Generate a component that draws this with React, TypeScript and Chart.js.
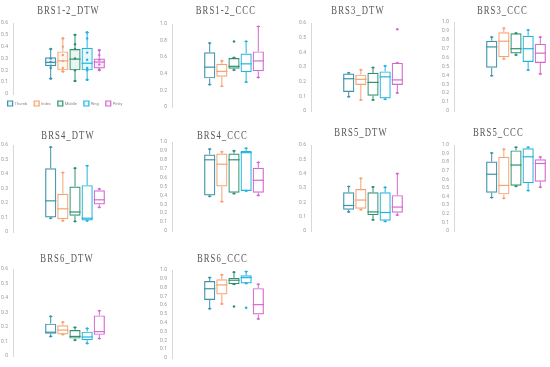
import React, { useEffect, useRef } from 'react';
import { Chart, registerables } from 'chart.js';
Chart.register(...registerables);

const fingers = ['Thumb', 'Index', 'Middle', 'Ring', 'Pinky'];
const colors = ['#3d93ad', '#f5a271', '#2f9170', '#22b4df', '#d468cf'];
const tints = ['rgba(61,147,173,0.10)', 'rgba(245,162,113,0.10)', 'rgba(47,145,112,0.10)', 'rgba(34,180,223,0.10)', 'rgba(212,104,207,0.10)'];

// each row: [min, q1, median, q3, max] for Thumb, Index, Middle, Ring, Pinky
const brs12Dtw = [[0.13, 0.234, 0.267, 0.31, 0.38], [0.19, 0.20, 0.28, 0.36, 0.47], [0.11, 0.20, 0.295, 0.38, 0.50], [0.12, 0.20, 0.26, 0.39, 0.52], [0.20, 0.215, 0.27, 0.30, 0.37]];
const brs12DtwPoints = [[0.38, 0.30, 0.27, 0.24, 0.22, 0.13], [0.47, 0.40, 0.33, 0.28, 0.22, 0.19], [0.50, 0.42, 0.38, 0.30, 0.20, 0.11], [0.52, 0.47, 0.35, 0.29, 0.22, 0.20, 0.12], [0.37, 0.33, 0.29, 0.25, 0.21]];
const brs12Ccc = [[0.27, 0.345, 0.48, 0.66, 0.77], [0.25, 0.365, 0.43, 0.52, 0.555], [0.445, 0.46, 0.49, 0.59, 0.595], [0.30, 0.42, 0.52, 0.645, 0.79], [0.356, 0.43, 0.555, 0.67, 0.97]];
const brs12CccOut = [[], [], [0.79], [], []];
const brs3Dtw = [[0.097, 0.13, 0.22, 0.255, 0.26], [0.075, 0.177, 0.216, 0.248, 0.28], [0.075, 0.104, 0.195, 0.26, 0.296], [0.08, 0.086, 0.233, 0.27, 0.307], [0.123, 0.177, 0.212, 0.328, 0.328]];
const brs3DtwOut = [[], [], [], [], [0.557]];
const brs3Ccc = [[0.396, 0.486, 0.72, 0.79, 0.83], [0.586, 0.604, 0.784, 0.885, 0.93], [0.63, 0.647, 0.70, 0.874, 0.874], [0.46, 0.55, 0.70, 0.845, 0.91], [0.417, 0.54, 0.65, 0.755, 0.83]];
const brs4Dtw = [[0.095, 0.10, 0.215, 0.44, 0.585], [0.077, 0.088, 0.16, 0.264, 0.41], [0.073, 0.112, 0.138, 0.314, 0.44], [0.077, 0.08, 0.095, 0.323, 0.457], [0.17, 0.19, 0.222, 0.288, 0.297]];
const brs4Ccc = [[0.39, 0.40, 0.80, 0.86, 0.92], [0.33, 0.50, 0.75, 0.87, 0.89], [0.42, 0.43, 0.80, 0.87, 0.90], [0.45, 0.45, 0.88, 0.90, 0.93], [0.40, 0.43, 0.57, 0.71, 0.77]];
const brs5Dtw = [[0.133, 0.149, 0.178, 0.27, 0.31], [0.149, 0.156, 0.216, 0.293, 0.367], [0.078, 0.111, 0.133, 0.27, 0.307], [0.067, 0.071, 0.129, 0.27, 0.304], [0.111, 0.127, 0.167, 0.25, 0.40]];
const brs5Ccc = [[0.389, 0.444, 0.66, 0.807, 0.907], [0.38, 0.426, 0.53, 0.863, 0.95], [0.52, 0.526, 0.767, 0.937, 0.974], [0.47, 0.556, 0.863, 0.963, 0.974], [0.51, 0.574, 0.785, 0.833, 0.86]];
const brs6Dtw = [[0.135, 0.153, 0.164, 0.223, 0.273], [0.148, 0.148, 0.179, 0.212, 0.234], [0.109, 0.12, 0.135, 0.179, 0.197], [0.087, 0.109, 0.131, 0.168, 0.19], [0.12, 0.146, 0.168, 0.28, 0.312]];
const brs6Ccc = [[0.56, 0.66, 0.787, 0.874, 0.913], [0.614, 0.722, 0.83, 0.895, 0.946], [0.838, 0.838, 0.884, 0.91, 0.975], [0.848, 0.848, 0.913, 0.94, 0.982], [0.444, 0.495, 0.606, 0.794, 0.838]];
const brs6CccOut = [[], [], [0.585], [0.57], []];

const noOut = [[], [], [], [], []];

type Panel = {
  title: string; stats: number[][]; out: number[][]; points?: number[][]; max: number;
  axisX: number; top: number; bottom: number; tx: number; ty: number; legend?: boolean;
};

const panels: Panel[] = [
  { title: 'BRS1-2_DTW', stats: brs12Dtw, out: noOut, points: brs12DtwPoints, max: 0.6, axisX: 13, top: 21, bottom: 93, tx: 68, ty: 10, legend: true },
  { title: 'BRS1-2_CCC', stats: brs12Ccc, out: brs12CccOut, max: 1, axisX: 172, top: 22, bottom: 109, tx: 226, ty: 10 },
  { title: 'BRS3_DTW', stats: brs3Dtw, out: brs3DtwOut, max: 0.6, axisX: 311, top: 21, bottom: 113, tx: 358, ty: 10 },
  { title: 'BRS3_CCC', stats: brs3Ccc, out: noOut, max: 1, axisX: 454, top: 20, bottom: 113, tx: 502, ty: 10 },
  { title: 'BRS4_DTW', stats: brs4Dtw, out: noOut, max: 0.6, axisX: 13, top: 143, bottom: 234, tx: 68, ty: 135 },
  { title: 'BRS4_CCC', stats: brs4Ccc, out: noOut, max: 1, axisX: 172, top: 140, bottom: 233, tx: 222, ty: 135 },
  { title: 'BRS5_DTW', stats: brs5Dtw, out: noOut, max: 0.6, axisX: 311, top: 143, bottom: 233, tx: 361, ty: 132 },
  { title: 'BRS5_CCC', stats: brs5Ccc, out: noOut, max: 1, axisX: 454, top: 143, bottom: 233, tx: 498, ty: 132 },
  { title: 'BRS6_DTW', stats: brs6Dtw, out: noOut, max: 0.6, axisX: 13, top: 267, bottom: 358, tx: 67, ty: 258 },
  { title: 'BRS6_CCC', stats: brs6Ccc, out: brs6CccOut, max: 1, axisX: 172, top: 268, bottom: 360, tx: 222, ty: 258 },
];

const YW = 20;
const PLOT_W = 124;
const LEGEND_H = 23;
const TITLE_BOX = 120;

function makePlugin(p: Panel) {
  return {
    id: 'boxExtras',
    afterDatasetsDraw(chart: any) {
      const ctx = chart.ctx;
      const y = chart.scales.y;
      p.stats.forEach((s, i) => {
        const bar = chart.getDatasetMeta(i).data[0];
        if (!bar) return;
        const x = bar.x;
        const w = bar.width;
        const [mn, q1, md, q3, mx] = s.map((v) => y.getPixelForValue(v));
        ctx.save();
        ctx.strokeStyle = colors[i];
        ctx.fillStyle = colors[i];
        ctx.lineWidth = 1;
        ctx.beginPath();
        ctx.moveTo(x, mx); ctx.lineTo(x, q3);
        ctx.moveTo(x, q1); ctx.lineTo(x, mn);
        ctx.moveTo(x - w * 0.15, mx); ctx.lineTo(x + w * 0.15, mx);
        ctx.moveTo(x - w * 0.15, mn); ctx.lineTo(x + w * 0.15, mn);
        ctx.stroke();
        ctx.lineWidth = 1.2;
        ctx.beginPath();
        ctx.moveTo(x - w / 2, md); ctx.lineTo(x + w / 2, md);
        ctx.stroke();
        [mx, mn].forEach((py) => {
          ctx.beginPath(); ctx.arc(x, py, 1.1, 0, Math.PI * 2); ctx.fill();
        });
        (p.out[i] || []).forEach((v) => {
          const py = y.getPixelForValue(v);
          ctx.beginPath(); ctx.arc(x, py, 1.3, 0, Math.PI * 2); ctx.fill();
        });
        if (p.points) {
          (p.points[i] || []).forEach((v) => {
            const py = y.getPixelForValue(v);
            ctx.beginPath(); ctx.arc(x, py, 1.2, 0, Math.PI * 2); ctx.fill();
          });
        }
        ctx.restore();
      });
    },
  };
}

function PanelChart({ p }: { p: Panel }) {
  const ref = useRef<HTMLCanvasElement>(null);
  const plotH = p.bottom - p.top;
  const width = YW + PLOT_W + 2;
  const height = 6 + plotH + (p.legend ? LEGEND_H : 6);
  useEffect(() => {
    if (!ref.current) return;
    const chart = new Chart(ref.current, {
      type: 'bar',
      data: {
        labels: [''],
        datasets: fingers.map((f, i) => ({
          label: f,
          data: [[p.stats[i][1], p.stats[i][3]]] as any,
          backgroundColor: p.legend ? tints[i] : 'rgba(255,255,255,0)',
          borderColor: colors[i],
          borderWidth: 1.2,
          borderSkipped: false,
          categoryPercentage: 0.49,
          barPercentage: 0.92,
        })),
      },
      options: {
        responsive: false,
        animation: false,
        devicePixelRatio: 1,
        layout: { padding: { top: 6, bottom: p.legend ? 0 : 6, left: 0, right: 2 } },
        plugins: {
          legend: {
            display: !!p.legend,
            position: 'bottom',
            labels: {
              boxWidth: 5, boxHeight: 5, padding: 7,
              color: '#888', font: { size: 4, family: 'Roboto' },
            },
          },
          tooltip: { enabled: false },
          title: { display: false },
        },
        scales: {
          x: { display: false },
          y: {
            min: 0, max: p.max,
            afterFit: (s: any) => { s.width = YW; },
            grid: { display: false, drawTicks: false },
            border: { display: true, color: '#d8d8d8', width: 1 },
            ticks: { stepSize: 0.1, padding: 5, color: '#999', font: { size: 5, family: 'Roboto' } },
          },
        },
      },
      plugins: [makePlugin(p)],
    });
    return () => chart.destroy();
  }, []);
  return (
    <canvas
      ref={ref}
      width={width}
      height={height}
      style={{ position: 'absolute', left: p.axisX - YW, top: p.top - 6, width, height, display: 'block' }}
    />
  );
}

function Title({ p }: { p: Panel }) {
  return (
    <div
      style={{
        position: 'absolute', left: p.tx - TITLE_BOX / 2, top: p.ty - 7, width: TITLE_BOX, height: 14,
        display: 'flex', justifyContent: 'center', alignItems: 'center', zIndex: 2,
      }}
    >
      <span
        style={{
          display: 'inline-block', whiteSpace: 'nowrap', transform: 'scaleX(0.72)',
          fontFamily: '"Liberation Serif", "DejaVu Serif", serif', fontSize: 12,
          letterSpacing: '1.5px', color: '#555', lineHeight: '14px',
        }}
      >
        {p.title}
      </span>
    </div>
  );
}

export default function App() {
  return (
    <div style={{ position: 'absolute', left: 0, top: 0, width: 550, height: 367, overflow: 'hidden', background: '#fff' }}>
      {panels.map((p) => <PanelChart key={'c' + p.title} p={p} />)}
      {panels.map((p) => <Title key={'t' + p.title} p={p} />)}
    </div>
  );
}
